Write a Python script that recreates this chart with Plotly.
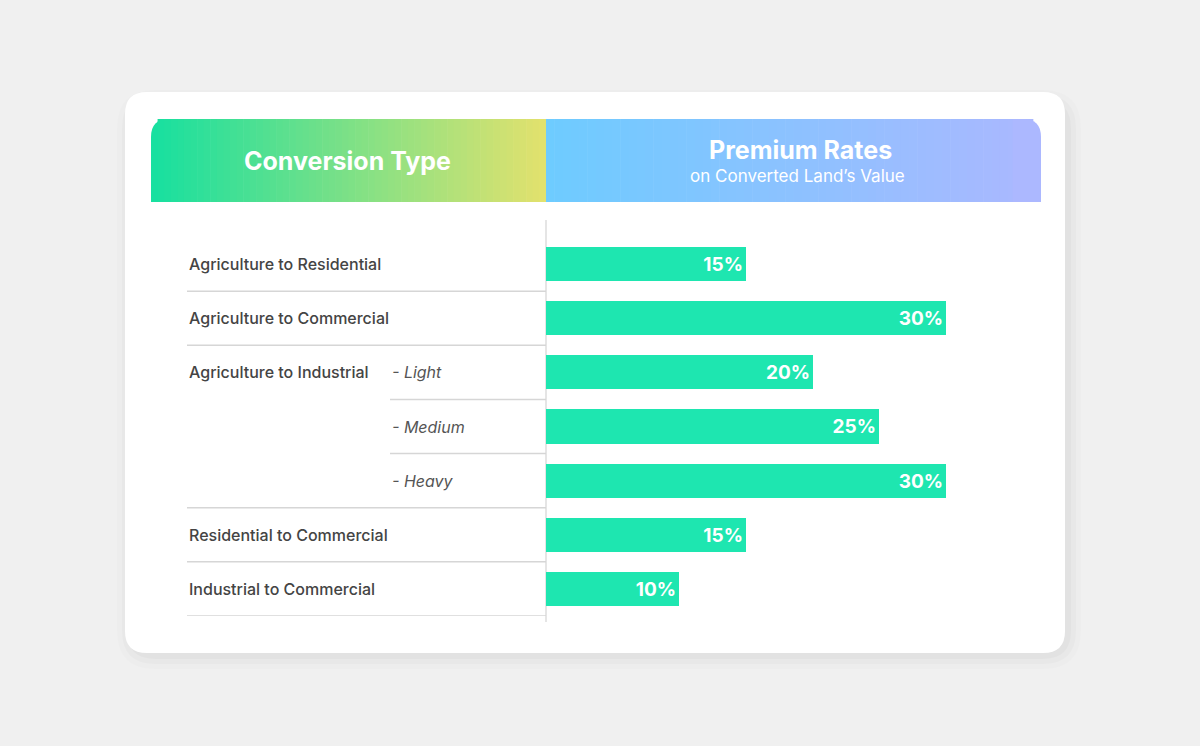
import plotly.graph_objects as go

labels = ["Agriculture to Residential", "Agriculture to Commercial", "Agriculture to Industrial",
          "", "", "Residential to Commercial", "Industrial to Commercial"]
sublabels = ["", "", "- Light", "- Medium", "- Heavy", "", ""]
rates = [15, 30, 20, 25, 30, 15, 10]
rows = list(range(len(rates)))

W, H = 1200, 746
def px(x): return x / W
def py(y): return 1 - y / H

def rrect(x0, y0, x1, y1, r, tl=True, tr=True, br=True, bl=True):
    # rounded rect path in paper coords (pixel input)
    p = f"M {px(x0 + (r if tl else 0))},{py(y0)} L {px(x1 - (r if tr else 0))},{py(y0)} "
    p += f"Q {px(x1)},{py(y0)} {px(x1)},{py(y0 + r)} " if tr else ""
    p += f"L {px(x1)},{py(y1 - (r if br else 0))} "
    p += f"Q {px(x1)},{py(y1)} {px(x1 - r)},{py(y1)} " if br else ""
    p += f"L {px(x0 + (r if bl else 0))},{py(y1)} "
    p += f"Q {px(x0)},{py(y1)} {px(x0)},{py(y1 - r)} " if bl else ""
    p += f"L {px(x0)},{py(y0 + (r if tl else 0))} "
    p += f"Q {px(x0)},{py(y0)} {px(x0 + r)},{py(y0)} " if tl else ""
    return p + "Z"

fig = go.Figure()
fig.add_trace(go.Bar(
    x=rates, y=rows, orientation="h", width=0.63,
    marker=dict(color="#1ee6b0", line=dict(width=0)),
    text=[f"{v}%" for v in rates], textposition="inside", insidetextanchor="end",
    textfont=dict(family="Inter", size=19, color="white", weight="bold"),
    cliponaxis=False, hoverinfo="skip",
))

shapes = []
# card shadow + card
for i, c in enumerate(["rgba(0,0,0,0.012)", "rgba(0,0,0,0.018)", "rgba(0,0,0,0.025)"]):
    d = 16 - i * 5
    shapes.append(dict(type="path", xref="paper", yref="paper", layer="below",
                       path=rrect(125 - d + 8, 92 - d + 14, 1065 + d, 653 + d, 22 + d),
                       fillcolor=c, line=dict(width=0)))
shapes.append(dict(type="path", xref="paper", yref="paper", layer="below",
                   path=rrect(125, 92, 1065, 653, 22), fillcolor="white", line=dict(width=0)))
# header gradients via strips
n = 60
for side, (x0, x1, c0, c1) in enumerate([(151, 546, (24, 224, 160), (226, 226, 110)),
                                          (546, 1041, (110, 204, 255), (172, 184, 255))]):
    for k in range(n):
        t = k / (n - 1)
        col = "rgb(%d,%d,%d)" % tuple(int(a + (b - a) * t) for a, b in zip(c0, c1))
        a = x0 + (x1 - x0) * k / n
        b = x0 + (x1 - x0) * (k + 1) / n + 0.6
        if side == 0 and k == 0:
            path = rrect(a, 119, b + 20, 202, 18, tr=False, br=False, bl=False)
        elif side == 1 and k == n - 1:
            path = rrect(a - 20, 119, x1, 202, 18, tl=False, bl=False, br=False)
        else:
            path = rrect(a, 119, b, 202, 0.01)
        shapes.append(dict(type="path", xref="paper", yref="paper", layer="below",
                           path=path, fillcolor=col, line=dict(width=0)))
# separators
shapes.append(dict(type="line", xref="paper", yref="paper", x0=px(546), x1=px(546),
                   y0=py(220), y1=py(622), line=dict(color="#dddddd", width=1.5), layer="below"))
for r in rows:
    start = 390 if sublabels[r] in ("- Light", "- Medium") else 187
    shapes.append(dict(type="line", xref="paper", yref="y", x0=px(start), x1=px(546),
                       y0=r + 0.5, y1=r + 0.5, line=dict(color="#d6d6d6", width=1.5), layer="below"))

ann = [
    dict(text="<b>Conversion Type</b>", x=px(347), y=py(161), font=dict(size=25, color="white")),
    dict(text="<b>Premium Rates</b>", x=px(800), y=py(150), font=dict(size=25, color="white")),
    dict(text="on Converted Land’s Value", x=px(797), y=py(176), font=dict(size=17, color="white")),
]
for a in ann:
    a.update(xref="paper", yref="paper", showarrow=False, xanchor="center", yanchor="middle")
    a["font"]["family"] = "Inter"
for r in rows:
    if labels[r]:
        ann.append(dict(text=labels[r], xref="paper", yref="y", x=px(187), y=r, xanchor="left",
                        showarrow=False, font=dict(family="Inter", size=16, color="#444444", weight=500)))
    if sublabels[r]:
        ann.append(dict(text=f"<i>{sublabels[r]}</i>", xref="paper", yref="y", x=px(390), y=r,
                        xanchor="left", showarrow=False,
                        font=dict(family="Inter", size=16, color="#555555")))

fig.update_layout(
    width=W, height=H, margin=dict(l=0, r=0, t=0, b=0),
    paper_bgcolor="#f0f0f0", plot_bgcolor="rgba(0,0,0,0)",
    shapes=shapes, annotations=ann, showlegend=False, bargap=0,
    xaxis=dict(domain=[px(546), px(946)], range=[0, 30], visible=False, fixedrange=True),
    yaxis=dict(domain=[py(616), py(237)], range=[6.5, -0.5], visible=False, fixedrange=True),
)
fig.write_html("out.html", config={"displayModeBar": False},
               post_script="document.body.style.margin='0';document.body.style.background='#f0f0f0';")
